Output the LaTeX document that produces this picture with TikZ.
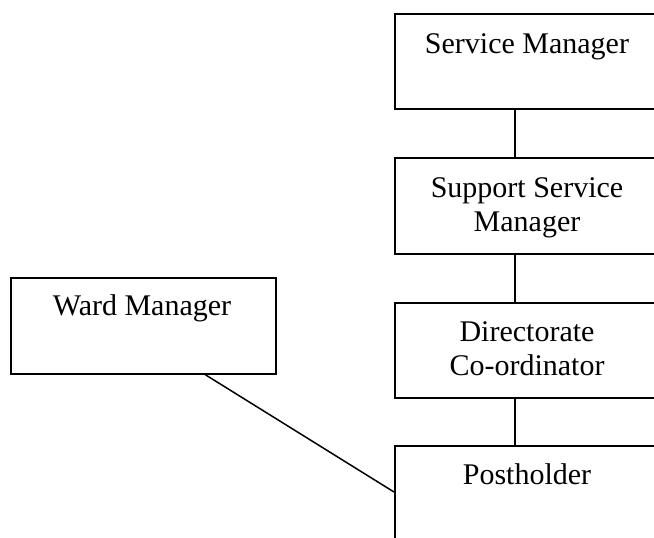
\documentclass[tikz,border=0pt]{standalone}
\usepackage{fontspec}
\setmainfont{Liberation Serif}
\usepackage{tikz}

\tikzset{
  box/.style={draw, line width=1.5pt, rectangle, anchor=north west, inner sep=0pt},
  lbl/.style={font=\fontsize{30}{34}\selectfont, align=center, inner sep=0pt, anchor=base}
}

\begin{document}
\begin{tikzpicture}[x=1pt,y=-1pt,line width=1.5pt]
  \useasboundingbox (0,0) rectangle (654,538);
  \clip (0,0) rectangle (654,538);
  % boxes down the right hand side
  \node[box, minimum width=266pt, minimum height=95pt] (sm) at (394,13) {};
  \node[box, minimum width=266pt, minimum height=96pt] (ssm) at (394,157) {};
  \node[box, minimum width=266pt, minimum height=95pt] (dc) at (394,302) {};
  \node[box, minimum width=266pt, minimum height=120pt] (ph) at (394,445) {};
  % box on the left
  \node[box, minimum width=265pt, minimum height=96pt] (wm) at (10,277) {};
  % texts (base is the last line)
  \node[lbl] (smtext) at (527,53) {Service Manager};
  \node[lbl] (ssmtext) at (527,231) {Support Service\\Manager};
  \node[lbl] (dctext) at (527,375) {Directorate\\Co-ordinator};
  \node[lbl] (phtext) at (527,484) {Postholder};
  \node[lbl] (wmtext) at (142,315) {Ward Manager};
  % connectors
  \coordinate (spine) at (515,0);
  \draw (sm.south -| spine) -- (ssm.north -| spine);
  \draw (ssm.south -| spine) -- (dc.north -| spine);
  \draw (dc.south -| spine) -- (ph.north -| spine);
  \draw ([xshift=195pt]wm.south west) -- ([yshift=-47pt]ph.north west);
\end{tikzpicture}
\end{document}
